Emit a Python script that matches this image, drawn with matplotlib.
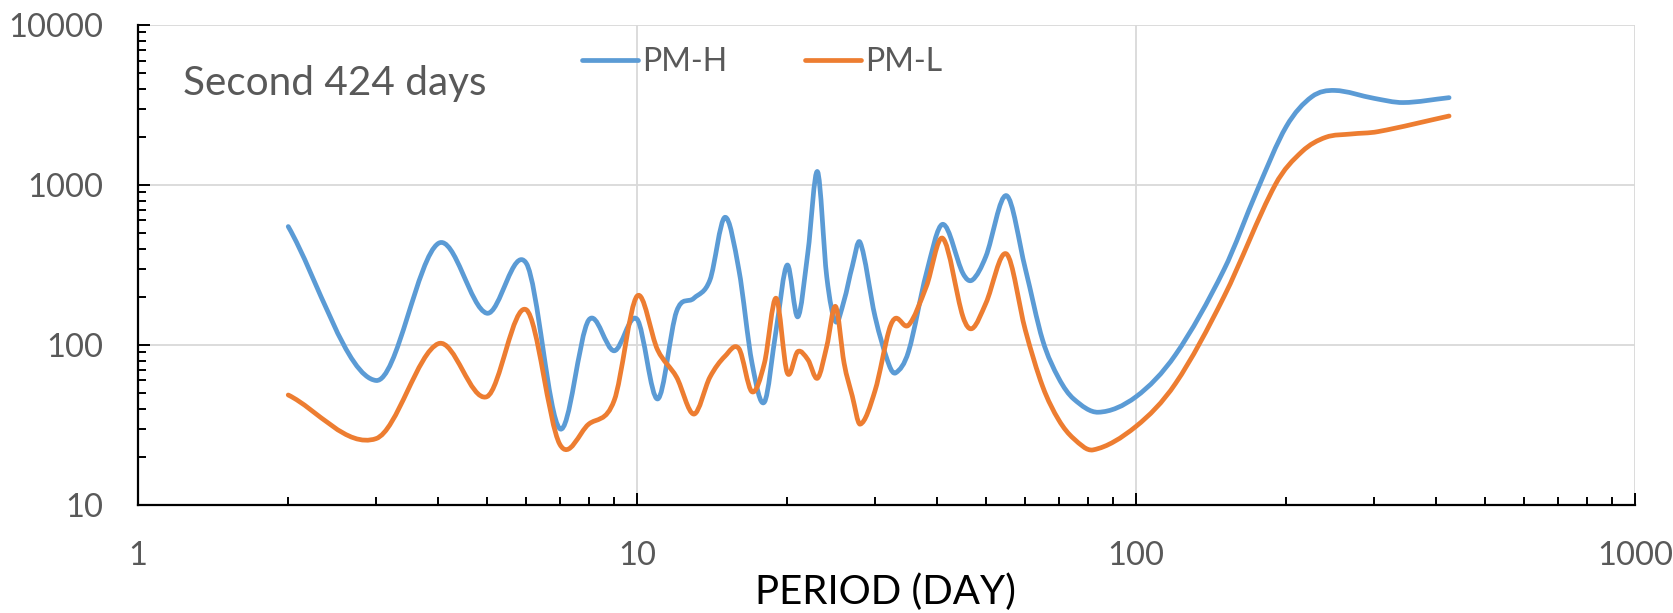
import numpy as np
import matplotlib
matplotlib.use("Agg")
import matplotlib.pyplot as plt
from matplotlib.path import Path
from matplotlib.patches import PathPatch
from matplotlib.lines import Line2D
from matplotlib import ticker

plt.rcParams["font.family"] = ["Lato", "DejaVu Sans"]

# --- data (period in days, power) ---
period_h = [2, 3, 4, 5, 6, 7, 8, 9, 10, 11, 12, 13, 14, 15, 16, 17, 18, 19, 20,
            21, 22, 23, 24, 25, 26, 27, 28, 30, 32, 33, 35, 38, 41, 45, 47, 50,
            55, 60, 65, 70, 75, 84, 100, 120, 150, 175, 200, 225, 250, 300, 343, 424]
pm_h = [550, 60, 432, 158, 324, 30, 143, 92, 145, 46, 162, 196, 255, 628, 295,
        77, 44, 124, 316, 150, 380, 1211, 267, 140, 190, 310, 437, 150, 75, 67,
        91, 280, 568, 280, 255, 357, 858, 300, 107, 62, 46, 38, 47.5, 87, 295,
        930, 2318, 3560, 3900, 3480, 3276, 3515]

period_l = [2, 3, 4, 5, 6, 7, 8, 9, 10, 11, 12, 13, 14, 15, 16, 17, 18, 19, 20,
            21, 22, 23, 24, 25, 26, 27, 28, 30, 32, 33, 35, 38, 41, 45, 47, 50,
            55, 60, 65, 70, 75, 82, 100, 120, 150, 190, 215, 240, 270, 305, 424]
pm_l = [48.7, 26, 102, 47.5, 166, 24, 32, 45, 202, 93, 63, 37, 63, 85, 95, 51,
        77, 196, 67, 91, 81, 62, 98, 174, 77, 48, 32, 52, 124, 147, 133, 232,
        464, 150, 127, 182, 371, 124, 55, 34, 26, 22.1, 31, 57.5, 200, 1000,
        1616, 1987, 2084, 2154, 2699]

BLUE = "#5B9BD5"
ORANGE = "#ED7D31"
GREY = "#595959"


def smooth_path(xs, ys):
    """Smoothed line: cubic Bezier segments (cardinal spline) in log-log space."""
    lx, ly = np.log10(xs), np.log10(ys)
    n = len(lx)
    m = np.empty(n)
    m[0] = (ly[1] - ly[0]) / (lx[1] - lx[0])
    m[-1] = (ly[-1] - ly[-2]) / (lx[-1] - lx[-2])
    m[1:-1] = (ly[2:] - ly[:-2]) / (lx[2:] - lx[:-2])
    verts = [(lx[0], ly[0])]
    codes = [Path.MOVETO]
    for i in range(n - 1):
        h = lx[i + 1] - lx[i]
        verts += [(lx[i] + h / 3, ly[i] + m[i] * h / 3),
                  (lx[i + 1] - h / 3, ly[i + 1] - m[i + 1] * h / 3),
                  (lx[i + 1], ly[i + 1])]
        codes += [Path.CURVE4] * 3
    return Path(10 ** np.array(verts), codes)


fig = plt.figure(figsize=(16.73, 6.13), dpi=100)
ax = fig.add_axes([0.0825, 0.1762, 0.8948, 0.783])

for xs, ys, c in [(period_h, pm_h, BLUE), (period_l, pm_l, ORANGE)]:
    ax.add_patch(PathPatch(smooth_path(xs, ys), fill=False, edgecolor=c,
                           lw=3.4, capstyle="round", joinstyle="round", zorder=3))

ax.set_xscale("log")
ax.set_yscale("log")
ax.set_xlim(1, 1000)
ax.set_ylim(10, 10000)

fmt = ticker.FuncFormatter(lambda v, p: f"{v:g}")
for axis in (ax.xaxis, ax.yaxis):
    axis.set_major_locator(ticker.LogLocator(base=10, numticks=10))
    axis.set_minor_locator(ticker.LogLocator(base=10, subs=np.arange(2, 10), numticks=100))
    axis.set_major_formatter(fmt)
    axis.set_minor_formatter(ticker.NullFormatter())

ax.set_axisbelow(True)
ax.grid(True, which="major", color="#D9D9D9", lw=1.3)
for s in ("top", "right"):
    ax.spines[s].set_visible(False)
for s in ("left", "bottom"):
    ax.spines[s].set_color("black")
    ax.spines[s].set_linewidth(1.6)

ax.tick_params(which="both", direction="in", color="black", width=1.4,
               labelcolor=GREY, labelsize=23.5)
ax.tick_params(which="major", length=8.6)
ax.tick_params(which="minor", length=5.8)
ax.tick_params(axis="x", pad=26)
ax.tick_params(axis="y", pad=25)

fig.text(885 / 1673, 1 - 604 / 613, "PERIOD (DAY)", ha="center", va="baseline",
         fontsize=29, color="black")
fig.text(183 / 1673, 1 - 95 / 613, "Second 424 days", ha="left", va="baseline",
         fontsize=29.2, color=GREY)

handles = [Line2D([], [], color=BLUE, lw=3.4, solid_capstyle="round"),
           Line2D([], [], color=ORANGE, lw=3.4, solid_capstyle="round")]
ax.legend(handles, ["PM-H", "PM-L"], loc="center left", ncol=2, frameon=False,
          bbox_to_anchor=(582 / 1673, 1 - 62 / 613), bbox_transform=fig.transFigure,
          borderaxespad=0, borderpad=0, fontsize=23, labelcolor=GREY,
          handlelength=1.75, handletextpad=0.12, columnspacing=2.45)

fig.savefig("out.png", dpi=100)
